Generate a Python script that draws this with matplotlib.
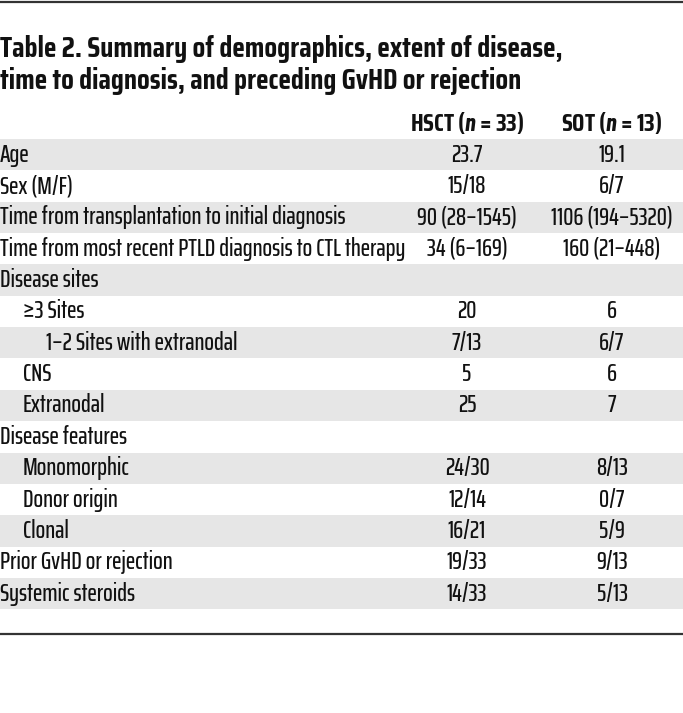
import matplotlib
matplotlib.use("Agg")
import matplotlib.pyplot as plt

# table content
title_lines = ["Table 2. Summary of demographics, extent of disease,",
               "time to diagnosis, and preceding GvHD or rejection"]
col_headers = [r"HSCT ($\mathit{n}$ = 33)", r"SOT ($\mathit{n}$ = 13)"]
row_labels = ["Age", "Sex (M/F)",
              "Time from transplantation to initial diagnosis",
              "Time from most recent PTLD diagnosis to CTL therapy",
              "Disease sites", "\u22653 Sites", "1\u20132 Sites with extranodal",
              "CNS", "Extranodal", "Disease features", "Monomorphic",
              "Donor origin", "Clonal", "Prior GvHD or rejection",
              "Systemic steroids"]
row_indent = [0, 0, 0, 0, 0, 1, 2, 1, 1, 0, 1, 1, 1, 0, 0]
hsct_vals = ["23.7", "15/18", "90 (28\u20131545)", "34 (6\u2013169)", "",
             "20", "7/13", "5", "25", "", "24/30", "12/14", "16/21",
             "19/33", "14/33"]
sot_vals = ["19.1", "6/7", "1106 (194\u20135320)", "160 (21\u2013448)", "",
            "6", "6/7", "6", "7", "", "8/13", "0/7", "5/9", "9/13", "5/13"]

body_fam = ["Saira ExtraCondensed", "Saira Condensed", "DejaVu Sans"]
head_fam = ["Saira Condensed", "DejaVu Sans"]
plt.rcParams['font.family'] = body_fam
plt.rcParams['mathtext.fontset'] = 'custom'
plt.rcParams['mathtext.it'] = 'Barlow Condensed:italic:bold'
plt.rcParams['mathtext.rm'] = 'Saira Condensed:bold'

W, H = 683, 713
fig = plt.figure(figsize=(W / 100, H / 100), dpi=100)
ax = fig.add_axes([0, 0, 1, 1])
ax.set_xlim(0, W)
ax.set_ylim(H, 0)
ax.axis('off')

txt = '#111111'
row_top = 139
row_h = 31.35
col_x = [467, 612]
fs = 18.3

# top and bottom rules
ax.axhline(1.5, color='#333333', linewidth=1.6)
ax.axhline(634, color='#333333', linewidth=1.6)

for i, line in enumerate(title_lines):
    ax.text(0, 49 + i * 32, line, fontsize=21, fontweight='bold',
            family=head_fam, ha='left', va='center', color=txt)

for x, h in zip(col_x, col_headers):
    ax.text(x, 123, h, fontsize=17.5, fontweight='bold', family=head_fam,
            ha='center', va='center', color=txt)

for i, lab in enumerate(row_labels):
    yc = row_top + (i + 0.5) * row_h
    if i % 2 == 0:
        ax.barh(yc, W, height=row_h, left=0, color='#e6e6e6', linewidth=0)
    ax.text(row_indent[i] * 23, yc, lab, fontsize=fs, fontweight='medium',
            ha='left', va='center', color=txt)
    ax.text(col_x[0], yc, hsct_vals[i], fontsize=fs, fontweight='medium',
            ha='center', va='center', color=txt)
    ax.text(col_x[1], yc, sot_vals[i], fontsize=fs, fontweight='medium',
            ha='center', va='center', color=txt)

fig.savefig("out.png", dpi=100)
